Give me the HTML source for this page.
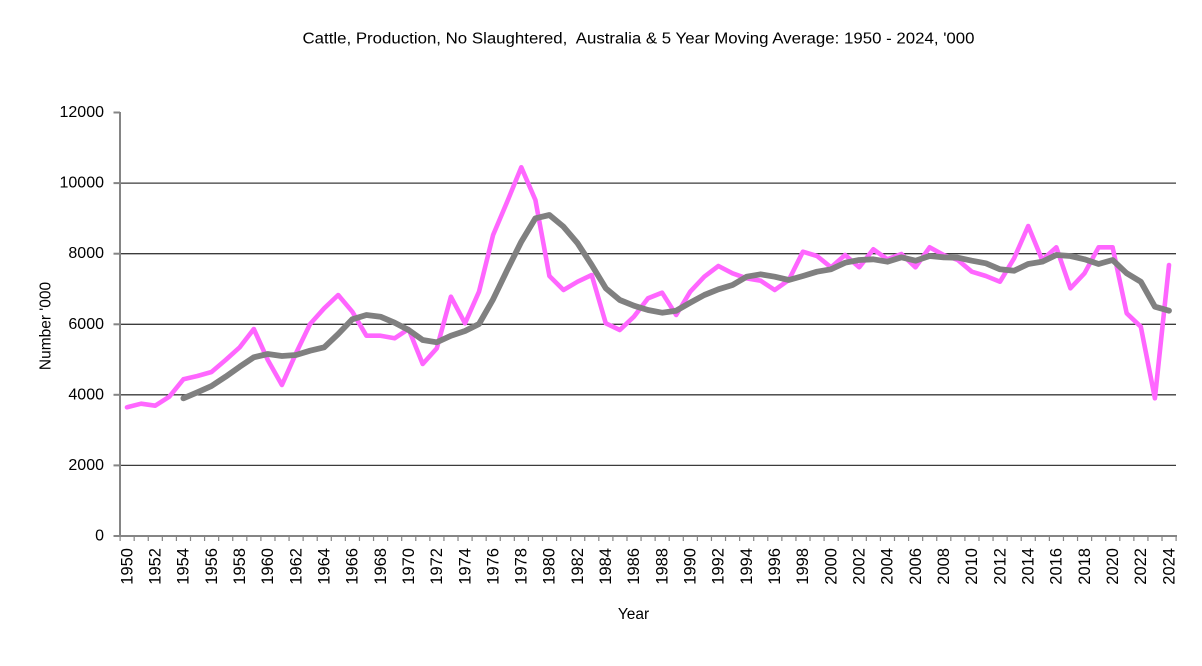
<!DOCTYPE html>
<html>
<head>
<meta charset="utf-8">
<style>
  html, body { margin:0; padding:0; background:#ffffff; }
  svg { display:block; }
  text { font-family: "Liberation Sans", Arial, sans-serif; fill:#000; }
</style>
</head>
<body>
<svg width="1202" height="666" viewBox="0 0 1202 666" xmlns="http://www.w3.org/2000/svg">
  <rect x="0" y="0" width="1202" height="666" fill="#ffffff"/>

  <!-- Title -->
  <text x="302.5" y="43.5" font-size="15.5" textLength="672" lengthAdjust="spacingAndGlyphs" xml:space="preserve">Cattle, Production, No Slaughtered,  Australia &amp; 5 Year Moving Average: 1950 - 2024, '000</text>

  <!-- Gridlines -->
  <g stroke="#3c3c3c" stroke-width="1.3">
    <line x1="120" y1="465.4" x2="1176" y2="465.4"/>
    <line x1="120" y1="394.8" x2="1176" y2="394.8"/>
    <line x1="120" y1="324.3" x2="1176" y2="324.3"/>
    <line x1="120" y1="253.7" x2="1176" y2="253.7"/>
    <line x1="120" y1="183.1" x2="1176" y2="183.1"/>
  </g>

  <!-- Axes -->
  <g stroke="#858585" stroke-width="2">
    <line x1="120" y1="112" x2="120" y2="537"/>
    <line x1="119" y1="536" x2="1177" y2="536"/>
    <!-- y ticks -->
    <line x1="113.5" y1="536" x2="120" y2="536"/>
    <line x1="113.5" y1="465.4" x2="120" y2="465.4"/>
    <line x1="113.5" y1="394.8" x2="120" y2="394.8"/>
    <line x1="113.5" y1="324.3" x2="120" y2="324.3"/>
    <line x1="113.5" y1="253.7" x2="120" y2="253.7"/>
    <line x1="113.5" y1="183.1" x2="120" y2="183.1"/>
    <line x1="113.5" y1="112.5" x2="120" y2="112.5"/>
  </g>
  <!-- x ticks -->
  <line x1="119.5" y1="538.5" x2="1177" y2="538.5" stroke="#858585" stroke-width="5" stroke-dasharray="1.2 12.88"/>

  <!-- Y tick labels -->
  <g font-size="16" text-anchor="end">
    <text x="104" y="540.5">0</text>
    <text x="104" y="469.9">2000</text>
    <text x="104" y="399.3">4000</text>
    <text x="104" y="328.8">6000</text>
    <text x="104" y="258.2">8000</text>
    <text x="104" y="187.6">10000</text>
    <text x="104" y="117">12000</text>
  </g>

  <!-- Axis titles -->
  <text x="0" y="0" font-size="15.5" text-anchor="middle" transform="translate(50.5,326) rotate(-90)">Number '000</text>
  <text x="633.5" y="619" font-size="15.5" text-anchor="middle">Year</text>

  <!-- X tick labels -->
  <g font-size="16.5" text-anchor="end">
    <text transform="translate(132.3,548) rotate(-90)">1950</text>
    <text transform="translate(160.5,548) rotate(-90)">1952</text>
    <text transform="translate(188.7,548) rotate(-90)">1954</text>
    <text transform="translate(216.8,548) rotate(-90)">1956</text>
    <text transform="translate(245.0,548) rotate(-90)">1958</text>
    <text transform="translate(273.1,548) rotate(-90)">1960</text>
    <text transform="translate(301.3,548) rotate(-90)">1962</text>
    <text transform="translate(329.5,548) rotate(-90)">1964</text>
    <text transform="translate(357.6,548) rotate(-90)">1966</text>
    <text transform="translate(385.8,548) rotate(-90)">1968</text>
    <text transform="translate(413.9,548) rotate(-90)">1970</text>
    <text transform="translate(442.1,548) rotate(-90)">1972</text>
    <text transform="translate(470.3,548) rotate(-90)">1974</text>
    <text transform="translate(498.4,548) rotate(-90)">1976</text>
    <text transform="translate(526.6,548) rotate(-90)">1978</text>
    <text transform="translate(554.7,548) rotate(-90)">1980</text>
    <text transform="translate(582.9,548) rotate(-90)">1982</text>
    <text transform="translate(611.1,548) rotate(-90)">1984</text>
    <text transform="translate(639.2,548) rotate(-90)">1986</text>
    <text transform="translate(667.4,548) rotate(-90)">1988</text>
    <text transform="translate(695.5,548) rotate(-90)">1990</text>
    <text transform="translate(723.7,548) rotate(-90)">1992</text>
    <text transform="translate(751.9,548) rotate(-90)">1994</text>
    <text transform="translate(780.0,548) rotate(-90)">1996</text>
    <text transform="translate(808.2,548) rotate(-90)">1998</text>
    <text transform="translate(836.3,548) rotate(-90)">2000</text>
    <text transform="translate(864.5,548) rotate(-90)">2002</text>
    <text transform="translate(892.7,548) rotate(-90)">2004</text>
    <text transform="translate(920.8,548) rotate(-90)">2006</text>
    <text transform="translate(949.0,548) rotate(-90)">2008</text>
    <text transform="translate(977.1,548) rotate(-90)">2010</text>
    <text transform="translate(1005.3,548) rotate(-90)">2012</text>
    <text transform="translate(1033.5,548) rotate(-90)">2014</text>
    <text transform="translate(1061.6,548) rotate(-90)">2016</text>
    <text transform="translate(1089.8,548) rotate(-90)">2018</text>
    <text transform="translate(1117.9,548) rotate(-90)">2020</text>
    <text transform="translate(1146.1,548) rotate(-90)">2022</text>
    <text transform="translate(1174.3,548) rotate(-90)">2024</text>
  </g>

  <!-- Pink series -->
  <polyline fill="none" stroke="#ff66ff" stroke-width="4.6" stroke-linejoin="round" stroke-linecap="round"
    points="127.0,407.3 141.1,403.7 155.2,405.7 169.3,396.7 183.4,379.3 197.4,376 211.5,372 225.6,360 239.7,347.3 253.8,329 267.8,360 281.9,385 296,353.3 310.1,324 324.2,308.3 338.2,295 352.3,311.7 366.4,335.7 380.5,335.7 394.6,338.3 408.6,329 422.7,364 436.8,348.3 450.9,296.7 465,323.3 479,291.7 493.1,235 507.2,201.7 521.3,167.3 535.4,200 549.4,276 563.5,290 577.6,281.7 591.7,275 605.8,323.3 619.8,330 633.9,316.7 648,298.3 662.1,292.7 676.2,315 690.2,291.7 704.3,276.7 718.4,266 732.5,273.3 746.6,278.3 760.6,280.7 774.7,290 788.8,280 802.9,251.7 817,256 831,267.3 845.1,255 859.2,267.3 873.3,249.3 887.4,259.3 901.4,254 915.5,267.3 929.6,247.3 943.7,255 957.8,260 971.8,271.7 985.9,276 1000,281.7 1014.1,258.3 1028.2,226 1042.2,260 1056.3,247.3 1070.4,288.3 1084.5,273.3 1098.6,247.3 1112.6,247.3 1126.7,313.3 1140.8,326.7 1154.9,398.3 1169,265"/>

  <!-- Gray moving average -->
  <polyline fill="none" stroke="#808080" stroke-width="5.8" stroke-linejoin="round" stroke-linecap="round"
    points="183.4,398.3 197.4,392.3 211.5,386 225.6,376.7 239.7,366.7 253.8,357.3 267.8,354 281.9,356 296,355 310.1,350.7 324.2,347.3 338.2,334 352.3,319.3 366.4,315 380.5,316.7 394.6,322.7 408.6,330 422.7,340 436.8,342.3 450.9,335.7 465,331 479,324 493.1,299.3 507.2,270 521.3,241.7 535.4,218.3 549.4,215 563.5,226.7 577.6,243.3 591.7,265 605.8,288.3 619.8,300 633.9,305.7 648,310 662.1,312.7 676.2,310.7 690.2,302.7 704.3,295 718.4,289.3 732.5,285 746.6,276.7 760.6,274.3 774.7,276.7 788.8,280 802.9,276 817,271.7 831,269.3 845.1,262.7 859.2,260 873.3,259.3 887.4,261.7 901.4,257.3 915.5,260.7 929.6,256 943.7,257.3 957.8,257.7 971.8,260.7 985.9,263.3 1000,269.3 1014.1,270.7 1028.2,264 1042.2,261.7 1056.3,255 1070.4,256 1084.5,259.3 1098.6,264 1112.6,260 1126.7,273.3 1140.8,281.7 1154.9,306.7 1169,310.7"/>
</svg>
</body>
</html>
